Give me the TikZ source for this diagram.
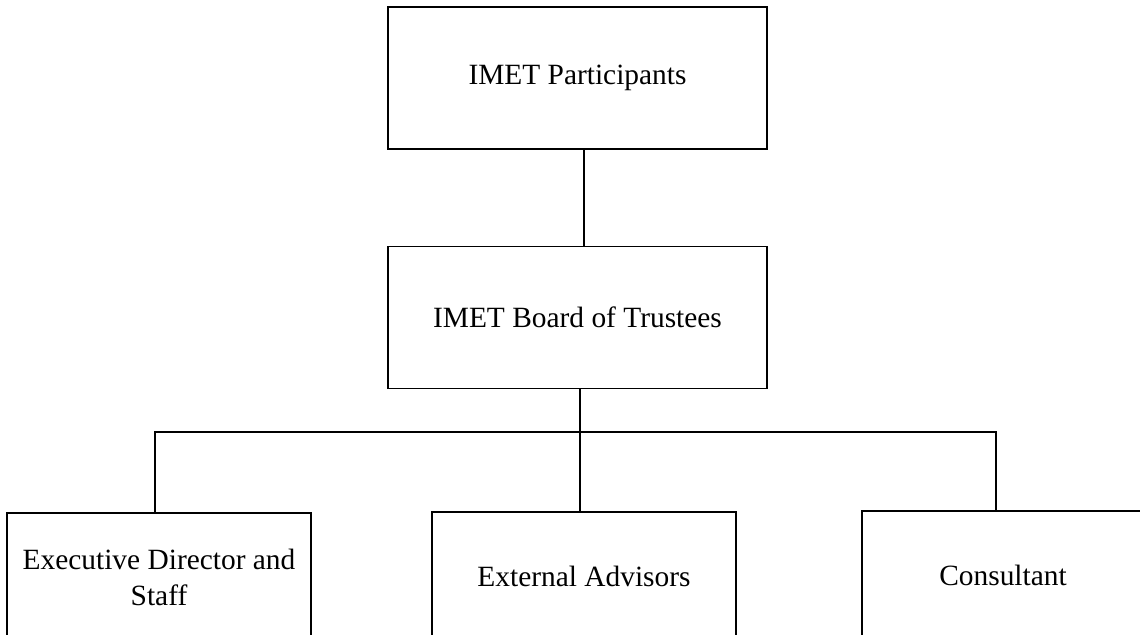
\documentclass[tikz,border=0pt]{standalone}
\usepackage{fontspec}
\setmainfont{Liberation Serif}
\usetikzlibrary{positioning}
\tikzset{
  basic/.style  = {draw, rectangle, line width=0.75pt, align=flush center,
                   font=\fontsize{14.7}{18}\selectfont},
  upper/.style  = {basic, minimum width=189.5pt, minimum height=71pt},
  lower/.style  = {basic, inner sep=2pt, text width=148pt,
                   minimum width=152pt, minimum height=64pt}
}

\begin{document}
\begin{tikzpicture}[x=0.5pt, y=-0.5pt, line width=0.75pt]
\clip (0,0) rectangle (1140,634);

% upper levels
\node[upper] (part) at (577.5,78) {IMET Participants};
\node[upper, below of = part, node distance=119.75pt] (board) {IMET Board of Trustees};

% lower level
\node[lower] (exec) at (159,577) {Executive Director and Staff};
\node[lower] (adv) at (584,576) {External Advisors};
\node[lower, text width=137pt, minimum width=141pt] (cons) at (1003,575) {Consultant};

% connectors
\coordinate (bus) at (580,432);
\coordinate (el) at ([xshift=-2pt]exec.north);
\coordinate (cr) at ([xshift=-3.5pt]cons.north);
\draw ([xshift=3.25pt]part.south) -- ([xshift=3.25pt]board.north);
\draw ([xshift=1.25pt]board.south) -- ([xshift=-2pt]adv.north);
\draw (el) |- (bus) -| (cr);
\end{tikzpicture}
\end{document}
